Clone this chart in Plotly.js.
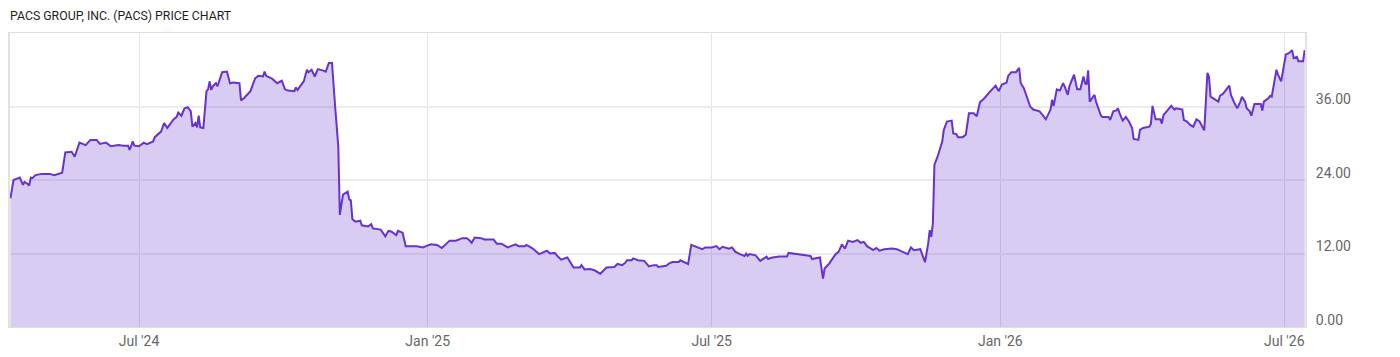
<!DOCTYPE html>
<html>
<head>
<meta charset="utf-8">
<script src="https://cdn.plot.ly/plotly-3.0.1.min.js"></script>
<style>
  html, body { margin: 0; padding: 0; background: #ffffff; }
  #chart { width: 1400px; height: 357px; }
</style>
</head>
<body>
<div id="chart"></div>
<script>
const chartTitle = "PACS GROUP, INC. (PACS) PRICE CHART";

const dates = [
  "2024-04-10","2024-04-12","2024-04-15","2024-04-16","2024-04-18","2024-04-19","2024-04-21","2024-04-22","2024-04-23","2024-04-24",
  "2024-04-26","2024-04-30","2024-05-05","2024-05-08","2024-05-13","2024-05-15","2024-05-19","2024-05-21","2024-05-24","2024-05-28",
  "2024-05-31","2024-06-04","2024-06-06","2024-06-10","2024-06-13","2024-06-18","2024-06-21","2024-06-24","2024-06-25","2024-06-27",
  "2024-06-28","2024-07-01","2024-07-04","2024-07-06","2024-07-10","2024-07-11","2024-07-15","2024-07-17","2024-07-19","2024-07-23",
  "2024-07-25","2024-07-26","2024-07-28","2024-07-30","2024-08-01","2024-08-03","2024-08-04","2024-08-06","2024-08-07","2024-08-08",
  "2024-08-09","2024-08-11","2024-08-13","2024-08-14","2024-08-15","2024-08-16","2024-08-17","2024-08-18","2024-08-19","2024-08-20",
  "2024-08-22","2024-08-23","2024-08-26","2024-08-28","2024-08-30","2024-09-03","2024-09-04","2024-09-06","2024-09-10","2024-09-11",
  "2024-09-13","2024-09-15","2024-09-18","2024-09-19","2024-09-20","2024-09-24","2024-09-27","2024-09-30","2024-10-02","2024-10-04",
  "2024-10-08","2024-10-09","2024-10-10","2024-10-14","2024-10-16","2024-10-17","2024-10-19","2024-10-21","2024-10-23","2024-10-26",
  "2024-10-28","2024-10-30","2024-11-01","2024-11-03","2024-11-04","2024-11-05","2024-11-06","2024-11-08","2024-11-11","2024-11-12",
  "2024-11-13","2024-11-14","2024-11-16","2024-11-19","2024-11-20","2024-11-24","2024-11-26","2024-11-27","2024-12-02","2024-12-04",
  "2024-12-05","2024-12-07","2024-12-09","2024-12-12","2024-12-13","2024-12-16","2024-12-18","2024-12-25","2024-12-29","2024-12-31",
  "2025-01-03","2025-01-07","2025-01-10","2025-01-15","2025-01-19","2025-01-23","2025-01-26","2025-01-27","2025-01-29","2025-01-31",
  "2025-02-04","2025-02-06","2025-02-12","2025-02-14","2025-02-17","2025-02-21","2025-02-26","2025-02-28","2025-03-04","2025-03-05",
  "2025-03-09","2025-03-13","2025-03-18","2025-03-20","2025-03-23","2025-03-25","2025-03-27","2025-03-31","2025-04-04","2025-04-08",
  "2025-04-09","2025-04-11","2025-04-14","2025-04-17","2025-04-21","2025-04-25","2025-04-30","2025-05-02","2025-05-05","2025-05-07",
  "2025-05-08","2025-05-11","2025-05-12","2025-05-15","2025-05-19","2025-05-22","2025-05-25","2025-05-27","2025-05-28","2025-06-02",
  "2025-06-04","2025-06-06","2025-06-10","2025-06-11","2025-06-14","2025-06-16","2025-06-18","2025-06-22","2025-06-25","2025-06-27",
  "2025-07-01","2025-07-04","2025-07-06","2025-07-08","2025-07-12","2025-07-14","2025-07-16","2025-07-19","2025-07-22","2025-07-23",
  "2025-07-24","2025-07-25","2025-07-29","2025-08-01","2025-08-05","2025-08-06","2025-08-08","2025-08-13","2025-08-18","2025-08-19",
  "2025-08-22","2025-08-24","2025-08-28","2025-09-02","2025-09-03","2025-09-08","2025-09-10","2025-09-11","2025-09-14","2025-09-18",
  "2025-09-20","2025-09-22","2025-09-24","2025-09-26","2025-09-29","2025-10-02","2025-10-04","2025-10-06","2025-10-08","2025-10-10",
  "2025-10-12","2025-10-14","2025-10-16","2025-10-19","2025-10-22","2025-10-24","2025-10-27","2025-10-31","2025-11-03","2025-11-05",
  "2025-11-07","2025-11-11","2025-11-13","2025-11-14","2025-11-16","2025-11-17","2025-11-18","2025-11-19","2025-11-20","2025-11-22",
  "2025-11-25","2025-11-26","2025-11-28","2025-12-01","2025-12-02","2025-12-04","2025-12-05","2025-12-08","2025-12-10","2025-12-12",
  "2025-12-15","2025-12-17","2025-12-19","2025-12-22","2025-12-25","2025-12-29","2025-12-31","2026-01-02","2026-01-05","2026-01-06",
  "2026-01-08","2026-01-11","2026-01-13","2026-01-14","2026-01-16","2026-01-18","2026-01-20","2026-01-22","2026-01-26","2026-01-28",
  "2026-01-30","2026-02-02","2026-02-03","2026-02-04","2026-02-06","2026-02-08","2026-02-10","2026-02-11","2026-02-13","2026-02-14",
  "2026-02-17","2026-02-19","2026-02-21","2026-02-23","2026-02-24","2026-02-25","2026-02-26","2026-02-27","2026-03-02","2026-03-03",
  "2026-03-06","2026-03-07","2026-03-11","2026-03-12","2026-03-14","2026-03-16","2026-03-17","2026-03-18","2026-03-19","2026-03-20",
  "2026-03-22","2026-03-24","2026-03-26","2026-03-27","2026-03-30","2026-03-31","2026-04-02","2026-04-06","2026-04-07","2026-04-08",
  "2026-04-10","2026-04-13","2026-04-14","2026-04-15","2026-04-17","2026-04-20","2026-04-22","2026-04-23","2026-04-27","2026-04-28",
  "2026-04-30","2026-05-02","2026-05-04","2026-05-06","2026-05-08","2026-05-11","2026-05-13","2026-05-14","2026-05-15","2026-05-18",
  "2026-05-20","2026-05-21","2026-05-23","2026-05-27","2026-05-28","2026-05-30","2026-06-01","2026-06-03","2026-06-04","2026-06-06",
  "2026-06-07","2026-06-09","2026-06-10","2026-06-12","2026-06-16","2026-06-17","2026-06-18","2026-06-21","2026-06-22","2026-06-23",
  "2026-06-26","2026-06-27","2026-06-29","2026-07-02","2026-07-04","2026-07-06","2026-07-07","2026-07-09","2026-07-10","2026-07-13",
  "2026-07-14"
];

const prices = [
  21.0,24.0,24.3,24.4,23.2,23.7,23.35,23.1,24.4,24.3,
  24.8,25.0,25.0,24.8,25.2,28.5,28.6,27.8,30.1,29.7,
  30.55,30.55,29.9,30.1,29.5,29.7,29.6,29.6,28.9,30.3,
  29.6,29.5,30.1,29.85,30.3,31.0,31.9,33.3,32.5,33.9,
  34.3,35.0,34.5,35.7,35.9,35.2,32.7,33.3,32.6,34.5,
  32.6,32.5,38.5,38.8,40.1,38.7,39.3,39.6,39.8,39.3,
  40.9,41.6,41.7,39.8,39.9,39.8,37.0,37.4,38.5,39.3,
  40.6,41.0,40.9,41.7,41.0,40.5,39.8,40.2,38.8,38.6,
  38.5,39.1,38.7,40.1,42.0,41.6,42.0,40.9,42.1,41.9,
  41.7,43.1,43.1,36.0,32.5,29.5,18.3,21.6,22.1,20.8,
  20.7,17.6,17.2,17.35,16.6,16.4,16.8,16.1,15.9,15.2,
  14.8,15.7,15.55,15.0,15.7,15.4,13.2,13.2,13.0,13.2,
  13.5,13.4,12.9,14.1,14.1,14.5,14.5,14.3,13.75,14.6,
  14.5,14.3,14.3,13.6,13.6,13.0,13.5,13.2,13.2,13.4,
  12.8,11.9,12.45,12.0,12.1,11.5,11.0,11.35,9.7,9.7,
  10.1,9.4,9.45,9.3,8.7,9.7,9.8,10.3,10.1,10.5,
  10.9,10.9,11.2,10.9,10.8,9.9,10.1,10.1,9.8,10.0,
  10.4,10.6,10.6,10.9,10.5,10.3,13.4,13.0,12.7,13.0,
  13.0,13.2,12.7,13.1,12.8,13.0,12.3,11.9,11.6,12.0,
  11.6,11.9,11.7,10.8,11.5,11.1,11.3,11.5,11.5,12.1,
  12.0,11.9,11.7,11.6,11.1,11.35,7.9,9.55,10.4,11.9,
  12.3,13.5,12.8,14.1,13.9,14.2,13.75,13.9,13.2,12.8,
  12.55,12.9,12.45,12.7,12.8,12.8,12.7,12.3,11.9,13.0,
  12.55,12.7,11.5,10.6,13.6,15.8,14.7,16.9,26.5,27.8,
  30.3,32.2,33.55,33.7,31.6,31.5,31.0,31.0,31.4,34.9,
  34.9,34.4,36.7,37.4,38.3,39.4,38.5,39.6,39.9,41.0,
  41.6,41.6,42.3,39.8,39.0,37.4,36.0,35.5,35.2,34.6,
  33.9,35.5,37.1,36.1,38.8,38.6,39.8,39.3,37.9,39.3,
  41.2,38.8,38.8,40.9,39.8,39.6,41.9,36.8,37.9,36.8,
  34.6,34.3,34.3,33.8,35.2,35.35,35.7,34.9,34.3,33.7,
  34.3,33.55,32.5,30.7,30.55,32.2,32.5,32.7,33.2,36.1,
  33.9,33.9,33.2,34.6,35.2,36.1,35.5,35.7,35.5,33.8,
  33.55,33.0,32.7,33.9,33.55,32.1,41.5,40.9,37.6,37.1,
  36.8,37.75,38.1,39.4,37.9,36.7,35.7,36.8,37.6,36.8,
  35.7,35.2,34.5,36.4,36.4,35.35,36.8,37.4,37.75,37.6,
  42.0,41.2,40.1,44.5,44.7,45.2,43.9,44.1,43.4,43.4,
  45.2
];

const xTickVals = ["2024-07-01","2025-01-01","2025-07-01","2026-01-01","2026-07-01"];
const xTickText = ["Jul '24","Jan '25","Jul '25","Jan '26","Jul '26"];
const yTickVals = [0, 12, 24, 36];
const yTickText = ["0.00","12.00","24.00","36.00"];

const trace = {
  type: "scatter",
  mode: "lines",
  x: dates,
  y: prices,
  line: { color: "#6633cc", width: 2, shape: "linear" },
  fill: "tozeroy",
  fillcolor: "rgba(102,51,204,0.25)",
  hoverinfo: "skip"
};

const layout = {
  width: 1400,
  height: 357,
  margin: { l: 10, r: 95, t: 33, b: 30, pad: 0 },
  paper_bgcolor: "#ffffff",
  plot_bgcolor: "#ffffff",
  showlegend: false,
  font: { family: "Roboto, 'Open Sans', sans-serif", size: 14, color: "#666666" },
  title: {
    text: chartTitle,
    font: { family: "Roboto, sans-serif", size: 12.3, color: "#1e1e1e" },
    xref: "container", x: 10 / 1400, xanchor: "left",
    yref: "container", y: 1 - 16 / 357, yanchor: "middle"
  },
  xaxis: {
    type: "date",
    range: ["2024-04-09 18:00", "2026-07-14 05:00"],
    tickmode: "array",
    tickvals: xTickVals,
    ticktext: xTickText,
    ticks: "",
    showgrid: true,
    gridcolor: "#e4e4e4",
    gridwidth: 1,
    showline: true,
    mirror: true,
    linecolor: "#dedede",
    linewidth: 1,
    zeroline: false,
    ticklabelstandoff: 1,
    tickfont: { family: "Roboto, sans-serif", size: 14, color: "#666666" },
    fixedrange: true
  },
  yaxis: {
    range: [0, 48],
    side: "right",
    tickmode: "array",
    tickvals: yTickVals,
    ticktext: yTickText,
    ticks: "",
    showgrid: true,
    gridcolor: "#ececec",
    gridwidth: 2,
    showline: true,
    mirror: true,
    linecolor: "#e2e2e2",
    linewidth: 2,
    zeroline: false,
    ticklabelshift: -7,
    ticklabelstandoff: 6,
    tickfont: { family: "Roboto, sans-serif", size: 14, color: "#666666" },
    fixedrange: true
  }
};

Plotly.newPlot("chart", [trace], layout, { staticPlot: true, displayModeBar: false });
</script>
</body>
</html>
